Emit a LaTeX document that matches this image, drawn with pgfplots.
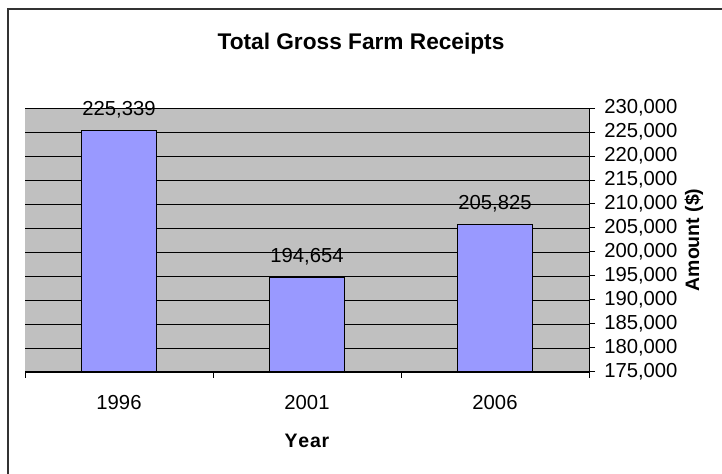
\documentclass[border=0pt]{standalone}
\usepackage{pgfplots}
\pgfplotsset{compat=1.18}
\usepackage{fontspec}
\setmainfont{Liberation Sans}
\definecolor{plotbg}{HTML}{C0C0C0}
\definecolor{barcol}{HTML}{9999FF}
\begin{document}
\begin{tikzpicture}
\path[use as bounding box] (0,0) rectangle (541.5pt,355.5pt);
\draw[line width=1.4pt, black!80] (6pt,0) -- (6pt,348.75pt) -- (541.5pt,348.75pt);
\begin{axis}[
  at={(18.75pt,76.5pt)}, anchor=south west,
  scale only axis, width=423pt, height=198pt,
  ybar, bar width=56.25pt,
  xmin=-0.5, xmax=2.5,
  ymin=175000, ymax=230000,
  axis x line*=bottom, axis y line*=right,
  axis line style={line width=0.75pt, -},
  axis background/.style={fill=plotbg},
  xtick={0,1,2}, xticklabels={1996,2001,2006},
  minor xtick={-0.5,0.5,1.5,2.5},
  major x tick style={draw=none},
  minor x tick style={line width=0.75pt, black},
  minor tick length=4.5pt,
  ytick distance=5000,
  major tick length=4.5pt,
  y tick style={line width=0.75pt, black},
  tick align=outside,
  ymajorgrids, grid style={line width=0.6pt, black},
  /pgf/number format/assume math mode=true,
  /pgf/number format/fixed,
  /pgf/number format/1000 sep={,},
  scaled y ticks=false,
  tick label style={font=\fontsize{15.2}{17}\selectfont},
  yticklabel style={anchor=west, inner sep=0pt, xshift=6.75pt},
  xticklabel style={anchor=base, inner sep=0pt, yshift=-24pt},
  every axis x label/.style={at={(axis description cs:0.5,0)}, anchor=base, yshift=-57pt},
  every axis y label/.style={at={(axis description cs:1,0.5)}, rotate=90, anchor=center, yshift=-78.75pt},
  every axis title/.style={at={(axis description cs:0.5,1)}, anchor=base, xshift=40.5pt, yshift=44.25pt},
  title={\fontsize{17}{20}\selectfont\bfseries Total Gross Farm Receipts},
  xlabel={\fontsize{14.6}{16}\selectfont\bfseries Y\kern0.6pt e\kern0.6pt a\kern0.6pt r},
  ylabel={\fontsize{14.6}{16}\selectfont\bfseries Amount (\$)},
  nodes near coords,
  every node near coord/.append style={font=\fontsize{15.2}{17}\selectfont, anchor=base, inner sep=0pt, yshift=11.25pt, black},
  clip=false,
]
\addplot[fill=barcol, draw=black, line width=0.75pt] coordinates {(0,225339) (1,194654) (2,205825)};
\end{axis}
\end{tikzpicture}
\end{document}
